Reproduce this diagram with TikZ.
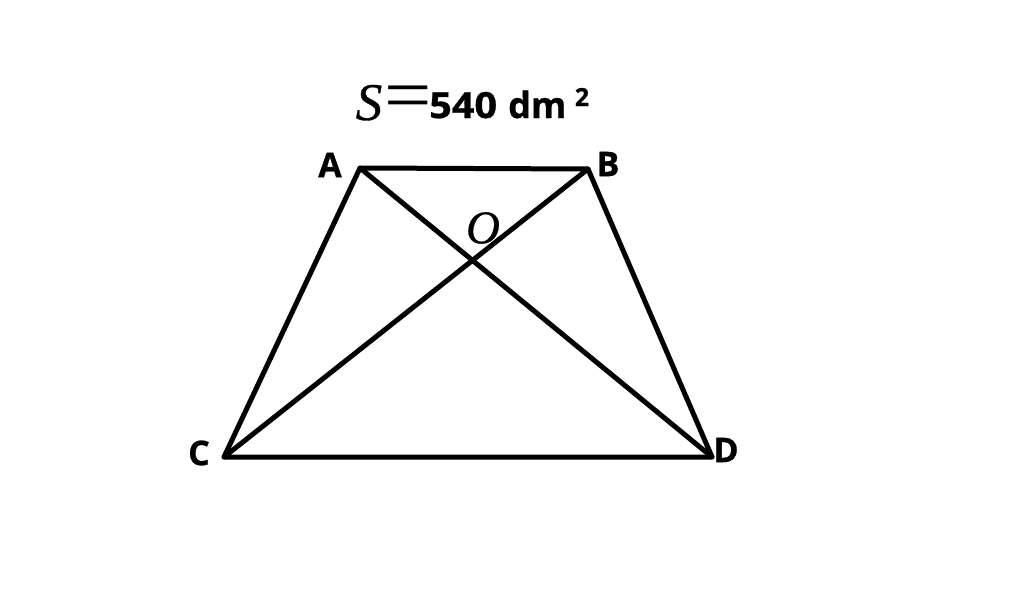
\documentclass[tikz,border=0pt]{standalone}
\usepackage{fontspec}
\setmainfont{Liberation Serif}[ItalicFeatures={FakeBold=0.6}]
\newfontfamily\labfont{Open Sans}[BoldFeatures={FakeBold=0.8}]
\begin{document}
\begin{tikzpicture}[x=1pt,y=-1pt,
  edge/.style={line width=5pt,line join=round,line cap=round},
  vlabel/.style={font=\fontsize{34}{34}\labfont\bfseries,inner sep=0pt},
  ilabel/.style={font=\fontsize{47}{47}\itshape,inner sep=0pt}]
\useasboundingbox[fill=white] (0,0) rectangle (1024,607);
\coordinate (A) at (360,168);
\coordinate (B) at (588,169);
\coordinate (C) at (224,457);
\coordinate (D) at (712,457);
\draw[edge] (A) -- (B) -- (D) -- (C) -- cycle;
\draw[edge] (A) -- (D);
\draw[edge] (B) -- (C);
\node[vlabel] (la) at (330,165) {A};
\node[vlabel] (lb) at (608,164) {B};
\node[vlabel] (lc) at (199,453) {C};
\node[vlabel] (ld) at (726,450) {D};
\node[ilabel] (lo) at (483,228) {O};
\node[font=\fontsize{53}{53}\itshape,inner sep=0pt,anchor=base] (s) at (369,120) {S};
\node[font=\fontsize{56}{56}\selectfont,inner sep=0pt,xscale=1.5,yscale=1.35] (eq) at (408,103) {=};
\node[font=\fontsize{36}{36}\labfont\bfseries,inner sep=0pt,anchor=base west,xscale=1.1] (num) at (429,118) {540};
\node[font=\fontsize{36}{36}\labfont\bfseries,inner sep=0pt,anchor=base west] (unit) at (508,118) {dm};
\node[font=\fontsize{25}{25}\labfont\bfseries,inner sep=0pt] (sq) at (582,97) {2};
\end{tikzpicture}
\end{document}
